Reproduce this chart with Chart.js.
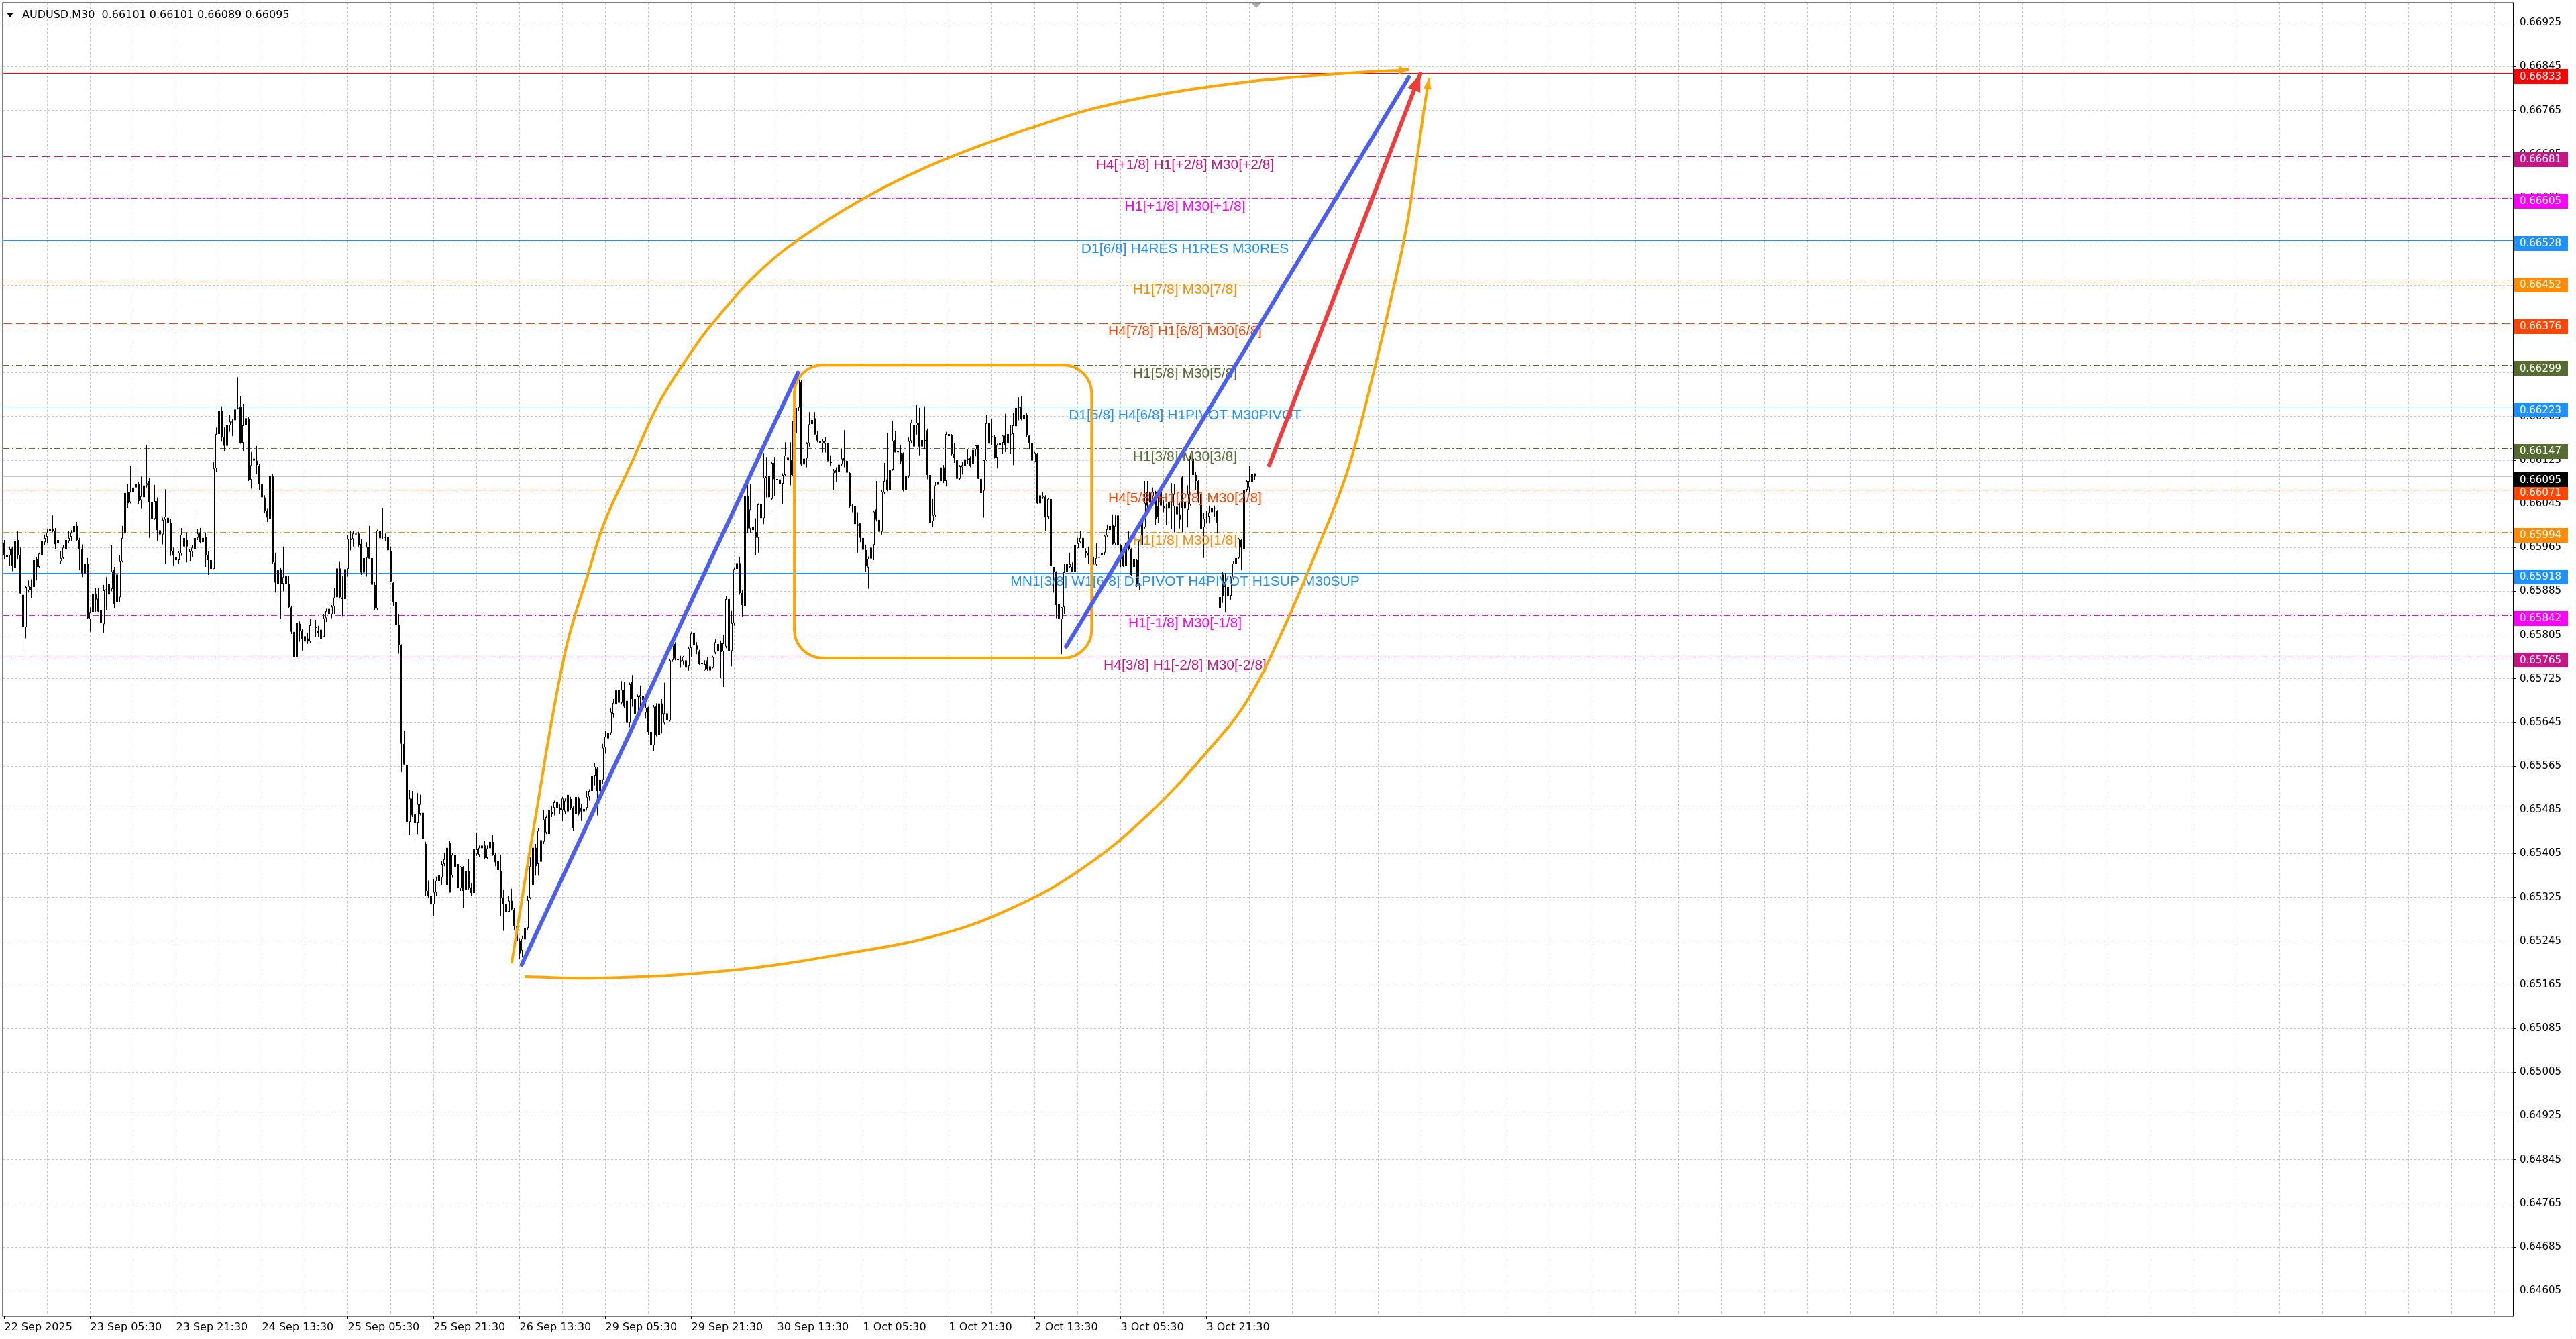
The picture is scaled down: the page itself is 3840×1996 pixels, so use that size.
<!DOCTYPE html>
<html><head><meta charset="utf-8">
<script src="https://cdn.jsdelivr.net/npm/chart.js@4.4.1/dist/chart.umd.min.js"></script>
<style>html,body{margin:0;padding:0;background:#fff;overflow:hidden}canvas{display:block}</style>
</head><body>
<canvas id="c" width="3840" height="1996"></canvas>
<script>
// ---------- header ----------
const headerText = 'AUDUSD,M30  0.66101 0.66101 0.66089 0.66095';

// ---------- candles (prices in points, 1 point = 0.00001) ----------
const opens = [
65973,65952,65950,65964,65928,65979,65952,65879,65819,65887,
65893,65893,65944,65930,65952,65975,65985,65995,66000,65995,
65973,65940,65946,65963,65977,65985,65993,66005,65979,65963,
65918,65936,65834,65846,65881,65872,65850,65825,65887,65879,
65889,65924,65916,65874,65940,65991,66067,66048,66067,66075,
66081,66052,66057,66079,66087,66048,66018,66050,65997,65989,
66016,66010,66010,65958,65947,65942,65954,65967,65979,65940,
65958,65963,65983,65993,65975,65985,65952,65942,65926,66110,
66173,66216,66167,66151,66189,66194,66198,66220,66222,66157,
66189,66201,66089,66128,66124,66114,66081,66057,66032,66018,
66097,65938,65899,65924,65899,65913,65899,65856,65811,65764,
65826,65813,65793,65799,65793,65819,65818,65812,65815,65802,
65836,65853,65843,65857,65874,65927,65874,65871,65926,65979,
65981,65989,65991,65972,65919,65946,65966,65946,65897,65853,
65996,65984,65983,65984,65959,65901,65866,65824,65787,65606,
65568,65463,65506,65478,65461,65478,65480,65423,65337,65328,
65312,65334,65355,65361,65386,65348,65425,65365,65403,65386,
65342,65381,65339,65374,65342,65333,65404,65403,65415,65420,
65397,65415,65427,65403,65392,65374,65324,65313,65299,65319,
65303,65273,65246,65228,65248,65269,65324,65348,65416,65386,
65390,65427,65444,65441,65482,65489,65489,65489,65485,65482,
65482,65505,65489,65478,65506,65489,65482,65489,65509,65520,
65547,65561,65520,65540,65599,65616,65626,65661,65678,65705,
65681,65705,65685,65644,65719,65688,65663,65691,65685,65663,
65673,65628,65603,65675,65622,65680,65644,65662,65648,65759,
65789,65762,65759,65757,65759,65748,65781,65810,65786,65775,
65753,65741,65759,65740,65745,65773,65775,65790,65775,65784,
65871,65776,65827,65926,65937,65882,65858,66060,66000,66003,
65994,65983,66044,66019,66093,66096,66054,66120,66089,66090,
66082,66098,66131,66126,66096,66175,66221,66268,66117,66128,
66156,66191,66202,66172,66161,66156,66155,66156,66120,66101,
66107,66104,66117,66129,66124,66102,66042,66041,66005,66011,
65983,65961,65929,65945,65970,66035,66016,65994,66066,66090,
66071,66108,66162,66142,66139,66137,66071,66096,66160,66150,
66189,66194,66150,66162,66180,66098,66013,66024,66080,66087,
66112,66087,66173,66171,66136,66125,66091,66112,66114,66128,
66130,66118,66144,66152,66091,66069,66125,66193,66169,66168,
66130,66153,66157,66170,66157,66172,66173,66187,66221,66223,
66208,66208,66170,66157,66122,66136,66061,66057,66058,66022,
66054,65930,65920,65862,65834,65856,65920,65930,65930,65920,
65964,65975,65983,65958,65956,65936,65934,65934,65946,65952,
65956,65987,65997,66007,65973,66024,65969,65960,65932,65973,
65962,65930,65942,65899,65969,66002,66067,66047,66059,66067,
66042,66042,66042,66038,66036,66047,66040,66040,66026,66094,
66036,66034,66044,66128,66098,66087,66063,66002,66020,66022,
66030,66036,66032,65854,65916,65903,65877,65877,65909,65936,
65946,65979,65963,66071,66075,66085,66101];
const highs = [
65979,65965,65967,65967,65995,65995,65965,65881,65895,65905,
65907,65956,65948,65956,65983,65989,65999,66010,66024,66001,
66001,65958,65969,65993,65995,65997,66006,66012,65983,65971,
65948,65946,65856,65883,65891,65891,65854,65897,65911,65901,
65969,65930,65920,65952,66005,66079,66081,66114,66081,66106,
66085,66095,66085,66153,66092,66081,66080,66057,66001,66020,
66072,66069,66018,65965,65952,65958,66001,65999,65993,65962,
65969,66026,65999,66001,66000,65993,65958,65944,66122,66185,
66226,66224,66185,66192,66208,66200,66220,66277,66243,66228,
66224,66204,66140,66157,66151,66118,66083,66061,66036,66120,
66100,65956,65946,65928,65967,65922,65913,65858,65813,65846,
65830,65817,65807,65809,65834,65832,65833,65822,65822,65843,
65853,65857,65860,65891,65936,65939,65913,65929,65988,65996,
65996,66001,65994,65981,65967,65975,66005,65950,65902,65998,
66005,66037,65991,66001,65967,65903,65874,65844,65788,65630,
65569,65521,65520,65492,65516,65513,65485,65427,65356,65337,
65358,65363,65374,65392,65406,65420,65429,65406,65410,65386,
65382,65382,65379,65396,65351,65416,65444,65420,65432,65429,
65420,65434,65439,65406,65399,65403,65339,65351,65327,65341,
65306,65275,65250,65255,65279,65328,65399,65427,65423,65451,
65434,65485,65475,65489,65492,65502,65506,65496,65509,65506,
65514,65509,65492,65513,65509,65496,65492,65520,65523,65564,
65571,65564,65558,65606,65630,65644,65671,65688,65730,65723,
65721,65719,65721,65718,65732,65713,65696,65713,65696,65683,
65674,65636,65677,65680,65721,65688,65718,65669,65762,65795,
65792,65765,65767,65767,65765,65784,65811,65811,65792,65778,
65762,65759,65765,65762,65767,65797,65803,65795,65806,65877,
65874,65849,65929,65956,65948,65888,66082,66085,66082,66049,
66019,66046,66068,66137,66131,66117,66123,66131,66096,66093,
66101,66158,66139,66158,66197,66251,66281,66271,66147,66158,
66213,66205,66213,66178,66178,66164,66167,66158,66134,66109,
66112,66145,66145,66180,66128,66104,66044,66046,66030,66011,
65986,65970,65949,65967,66033,66087,66019,66071,66120,66175,
66123,66197,66179,66169,66153,66139,66123,66167,66199,66287,
66227,66221,66227,66224,66183,66101,66054,66085,66087,66120,
66116,66177,66204,66173,66157,66126,66116,66122,66129,66146,
66132,66146,66153,66153,66095,66126,66208,66206,66200,66171,
66155,66163,66171,66210,66175,66189,66212,66238,66240,66242,
66218,66212,66171,66157,66140,66138,66089,66067,66061,66056,
66067,65930,65922,65864,65856,65936,65938,65956,65938,65973,
65983,65995,65995,65964,65966,65938,65948,65973,65950,65958,
65989,66007,66026,66026,66024,66026,65971,65962,65985,65995,
65964,65948,65944,65981,66012,66087,66087,66087,66075,66069,
66059,66083,66051,66046,66059,66083,66081,66059,66047,66096,
66083,66079,66136,66132,66104,66089,66067,66028,66032,66042,
66049,66042,66034,65879,65920,65918,65903,65914,65940,65979,
65983,65981,66073,66089,66114,66108,66101];
const lows = [
65944,65924,65932,65922,65922,65944,65881,65776,65799,65883,
65873,65883,65905,65928,65950,65969,65973,65989,65993,65963,
65969,65936,65944,65963,65973,65977,65989,65977,65924,65911,
65915,65834,65811,65836,65848,65846,65825,65809,65850,65830,
65885,65854,65862,65866,65938,65989,66038,66046,66032,66055,
66044,66036,66036,66075,65983,65997,66016,65977,65965,65971,
65936,65999,65950,65932,65936,65936,65950,65958,65938,65940,
65948,65961,65979,65973,65965,65930,65915,65885,65926,66104,
66142,66159,66142,66138,66177,66169,66181,66218,66155,66142,
66187,66087,66073,66120,66100,66071,66044,66028,66012,66016,
65936,65883,65864,65834,65885,65860,65854,65807,65748,65760,
65793,65776,65768,65789,65791,65813,65802,65802,65795,65802,
65829,65840,65836,65843,65874,65872,65840,65871,65912,65960,
65967,65967,65967,65915,65902,65912,65945,65895,65851,65850,
65941,65981,65977,65959,65903,65858,65822,65771,65554,65568,
65441,65439,65472,65430,65441,65475,65427,65328,65324,65258,
65291,65328,65344,65348,65382,65342,65334,65361,65368,65342,
65337,65306,65310,65339,65328,65328,65401,65399,65411,65395,
65396,65396,65401,65382,65358,65291,65264,65296,65298,65301,
65265,65241,65212,65215,65245,65265,65322,65327,65365,65365,
65382,65423,65441,65416,65472,65475,65472,65478,65465,65478,
65472,65485,65447,65472,65475,65465,65478,65484,65502,65499,
65530,65475,65513,65533,65588,65613,65623,65654,65674,65678,
65678,65671,65642,65636,65674,65647,65655,65669,65677,65652,
65622,65595,65593,65620,65600,65625,65642,65625,65647,65756,
65759,65743,65745,65751,65743,65740,65765,65784,65770,65751,
65748,65740,65740,65739,65744,65770,65765,65726,65710,65781,
65776,65748,65822,65838,65879,65838,65855,65992,65992,65948,
65951,65956,65756,66008,66057,66033,66052,66060,66063,66041,
66044,66096,66098,66079,66090,66172,66216,66115,66093,66112,
66150,66183,66172,66158,66134,66139,66139,66106,66115,66071,
66085,66101,66115,66112,66090,66038,66030,65989,65956,65975,
65953,65920,65890,65912,65942,66013,65986,65989,66063,66068,
66044,66106,66139,66134,66119,66068,66054,66093,66156,66057,
66172,66134,66145,66145,66090,65989,66003,66022,66079,66077,
66083,66077,66132,66134,66120,66089,66089,66099,66091,66118,
66112,66116,66132,66091,66061,66020,66124,66148,66153,66128,
66110,66140,66136,66140,66153,66136,66116,66187,66198,66198,
66155,66167,66146,66108,66122,66044,66030,66054,65995,66018,
65930,65883,65836,65817,65770,65844,65917,65928,65920,65917,
65964,65973,65962,65946,65936,65932,65934,65932,65940,65950,
65952,65985,65993,65969,65969,65966,65930,65930,65930,65960,
65913,65895,65893,65887,65954,66000,66038,66006,66050,66006,
66010,66038,66030,66006,66010,65999,65993,66014,66000,65993,
65997,66002,66042,66087,66071,66047,65969,65946,66010,66010,
66024,66022,65991,65838,65864,65846,65871,65869,65907,65934,
65944,65924,65961,66067,66063,66075,66089];
const closes = [
65952,65948,65962,65932,65977,65952,65881,65819,65893,65895,
65887,65942,65930,65954,65977,65983,65993,65999,65995,65971,
65979,65946,65965,65979,65983,65992,66005,65979,65963,65918,
65936,65836,65846,65881,65870,65848,65828,65887,65889,65899,
65922,65862,65866,65940,65983,66065,66046,66067,66075,66081,
66050,66059,66079,66083,66048,66018,66050,65997,65989,66016,
66022,66020,65958,65952,65942,65956,65989,65983,65967,65958,
65965,65983,65991,65975,65983,65952,65942,65926,66110,66173,
66216,66167,66151,66189,66196,66196,66218,66221,66157,66189,
66202,66089,66116,66124,66116,66081,66057,66032,66020,66096,
65938,65901,65924,65899,65911,65899,65856,65811,65764,65828,
65813,65797,65803,65793,65823,65821,65821,65809,65798,65836,
65849,65843,65857,65874,65927,65874,65871,65926,65981,65982,
65991,65991,65970,65919,65946,65966,65945,65897,65853,65996,
65982,65984,65985,65960,65903,65866,65824,65787,65606,65568,
65463,65506,65475,65461,65496,65496,65432,65337,65328,65312,
65335,65356,65366,65386,65395,65416,65334,65403,65381,65342,
65381,65337,65374,65342,65333,65413,65413,65416,65420,65397,
65415,65427,65403,65389,65375,65324,65312,65299,65319,65303,
65273,65246,65222,65250,65269,65320,65382,65416,65382,65447,
65430,65468,65472,65485,65478,65499,65499,65485,65506,65502,
65513,65489,65451,65509,65478,65482,65487,65509,65520,65547,
65564,65520,65540,65599,65619,65626,65664,65681,65705,65681,
65705,65674,65644,65715,65688,65661,65693,65695,65693,65672,
65628,65603,65674,65622,65680,65661,65662,65650,65759,65786,
65762,65759,65756,65765,65745,65781,65808,65786,65778,65752,
65752,65752,65743,65748,65765,65792,65789,65774,65790,65871,
65776,65827,65926,65937,65882,65860,66060,66000,66035,65997,
65983,66044,66019,66093,66096,66057,66120,66090,66091,66082,
66098,66134,66126,66098,66197,66221,66273,66117,66128,66156,
66191,66199,66172,66161,66156,66160,66160,66123,66123,66106,
66102,66117,66128,66124,66102,66041,66041,66008,66008,65983,
65961,65931,65945,65965,66031,66016,65994,66068,66087,66071,
66108,66161,66139,66139,66123,66071,66096,66160,66194,66189,
66194,66150,66162,66160,66098,66011,66025,66079,66085,66112,
66087,66173,66169,66136,66130,66091,66114,66116,66127,66126,
66114,66144,66152,66091,66065,66125,66193,66155,66167,66130,
66153,66157,66170,66153,66173,66173,66189,66221,66223,66200,
66200,66171,66157,66124,66138,66046,66046,66060,66020,66054,
65932,65920,65860,65834,65856,65920,65936,65935,65920,65969,
65973,65983,65964,65955,65950,65934,65936,65946,65948,65956,
65987,65999,66005,65971,66005,65969,65944,65932,65973,65962,
65915,65944,65899,65977,66010,66047,66042,66067,66067,66018,
66022,66067,66036,66036,66049,66063,66063,66026,66016,66038,
66049,66063,66128,66098,66087,66063,65999,66018,66022,66030,
66038,66038,66010,65875,65877,65893,65893,65909,65936,65946,
65981,65965,66071,66087,66087,66100,66095];

// ---------- axes ----------
const xLabelBars = [0,32,64,96,128,160,192,224,256,288,320,352,384,416,448];
const xLabelTexts = ['22 Sep 2025','23 Sep 05:30','23 Sep 21:30','24 Sep 13:30','25 Sep 05:30','25 Sep 21:30','26 Sep 13:30','29 Sep 05:30','29 Sep 21:30','30 Sep 13:30','1 Oct 05:30','1 Oct 21:30','2 Oct 13:30','3 Oct 05:30','3 Oct 21:30'];
const xGridStep = 16;
const yTickFirst = 0.64605, yTickStep = 0.0008, yTickCount = 30;
const yMin = 0.645599, yMax = 0.66961;
const xMin = -0.375, xMax = 934.875;

// ---------- levels ----------
const levelPrices = [0.66681,0.66605,0.66528,0.66452,0.66376,0.66299,0.66223,0.66147,0.66071,0.65994,0.65918,0.65842,0.65765];
const levelLabels = ['H4[+1/8] H1[+2/8] M30[+2/8]','H1[+1/8] M30[+1/8]','D1[6/8] H4RES H1RES M30RES','H1[7/8] M30[7/8]','H4[7/8] H1[6/8] M30[6/8]','H1[5/8] M30[5/8]','D1[5/8] H4[6/8] H1PIVOT M30PIVOT','H1[3/8] M30[3/8]','H4[5/8] H1[2/8] M30[2/8]','H1[1/8] M30[1/8]','MN1[3/8] W1[6/8] D1PIVOT H4PIVOT H1SUP M30SUP','H1[-1/8] M30[-1/8]','H4[3/8] H1[-2/8] M30[-2/8]'];
const levelColors = ['#C71585','#FF00FF','#1E90FF','#FF8C00','#FF4500','#556B2F','#1E90FF','#556B2F','#FF4500','#FF8C00','#1E90FF','#FF00FF','#C71585'];
const levelStyles = ['dash','dashdot','solid','dashdot','dash','dashdot','solid','dashdot','dash','dashdot','thick','dashdot','dash'];
const levelLabelBar = 440;
const currentPrice = 0.66095;
const targetPrice = 0.66833;

// ---------- drawings (bar index, price) ----------
const blueTrend1 = [{x:192.8,y:0.65202},{x:295.75,y:0.66285}];
const blueTrend2 = [{x:395.7,y:0.65784},{x:523.4,y:0.66826}];
const redTrend   = [{x:471.4,y:0.66116},{x:527.7,y:0.66832}];
const upperCurveX = [189.05,197.0,208.7,217.85,223.7,233.65,243.6,253.6,263.5,283.5,303.4,323.3,343.25,363.2,383.1,403.05,423.0,442.9,462.8,482.8,502.7,523.6];
const upperCurveY = [0.652043,0.654441,0.657676,0.659224,0.660121,0.661193,0.662264,0.663054,0.66373,0.664801,0.665534,0.666125,0.666604,0.666999,0.667337,0.667647,0.667872,0.668042,0.668172,0.668267,0.66834,0.668396];
const lowerCurveX = [193.9,221.4,269.35,317.2,348.9,374.4,399.95,425.45,450.98,463.7,476.5,489.2,500.7,510.7,516.65,522.6,526.6,529.6,531.0];
const lowerCurveY = [0.651798,0.651773,0.651908,0.652252,0.652573,0.65303,0.65372,0.654728,0.656071,0.656896,0.658147,0.659613,0.661079,0.662941,0.664181,0.665534,0.66683,0.667844,0.668239];
const rangeBox = {x0:294.4, x1:405.2, lo:0.65763, hi:0.66299};

// ---------- build ----------
const P = v => v / 100000;
const wickData = lows.map((l, i) => ({x: i, y: [P(l), P(highs[i])]}));
const bodyData = opens.map((o, i) => ({x: i, y: [P(o), P(closes[i])]}));
const bodyFill = opens.map((o, i) => closes[i] >= o ? '#ffffff' : '#000000');
const upperCurve = upperCurveX.map((x, i) => ({x, y: upperCurveY[i]}));
const lowerCurve = lowerCurveX.map((x, i) => ({x, y: lowerCurveY[i]}));
const labelMap = new Map(xLabelBars.map((b, i) => [b, xLabelTexts[i]]));
const gridBars = []; for (let b = 0; b <= xMax; b += xGridStep) gridBars.push(b);
const yTicks = []; for (let k = 0; k < yTickCount; k++) yTicks.push(+(yTickFirst + k * yTickStep).toFixed(5));

function dashFor(s) {
  if (s === 'dash') return [13, 6];
  if (s === 'dashdot') return [9, 4, 2, 4];
  return [];
}
function hLine(ctx, a, y, color, w, dash) {
  const yy = w % 2 ? Math.round(y) + 0.5 : Math.round(y);
  ctx.save(); ctx.strokeStyle = color; ctx.lineWidth = w; ctx.setLineDash(dash);
  ctx.beginPath(); ctx.moveTo(a.left, yy); ctx.lineTo(a.right, yy); ctx.stroke(); ctx.restore();
}
function arrowHead(ctx, p1, p2, len, half, color) {
  const dx = p2.x - p1.x, dy = p2.y - p1.y, d = Math.hypot(dx, dy) || 1;
  const ux = dx / d, uy = dy / d;
  const bx = p2.x - ux * len, by = p2.y - uy * len;
  ctx.save(); ctx.fillStyle = color; ctx.beginPath();
  ctx.moveTo(p2.x, p2.y); ctx.lineTo(bx - uy * half, by + ux * half); ctx.lineTo(bx + uy * half, by - ux * half);
  ctx.closePath(); ctx.fill(); ctx.restore();
}
const pt = (ch, d) => ({x: ch.scales.x.getPixelForValue(d.x), y: ch.scales.y.getPixelForValue(d.y)});

const mt4 = {
  id: 'mt4',
  beforeDatasetsDraw(chart) {
    const ctx = chart.ctx, a = chart.chartArea, ys = chart.scales.y;
    ctx.save(); ctx.beginPath(); ctx.rect(a.left, a.top, a.right - a.left, a.bottom - a.top); ctx.clip();
    hLine(ctx, a, ys.getPixelForValue(currentPrice), '#c0c0c0', 1, []);
    hLine(ctx, a, ys.getPixelForValue(targetPrice), '#ff0000', 1, []);
    levelPrices.forEach((p, k) => {
      const s = levelStyles[k];
      hLine(ctx, a, ys.getPixelForValue(p), levelColors[k], s === 'thick' ? 2 : 1, dashFor(s));
    });
    ctx.restore();
  },
  afterDatasetDraw(chart, args) {
    if (args.index !== 1) return;
    const ctx = chart.ctx, xs = chart.scales.x, ys = chart.scales.y, a = chart.chartArea;
    ctx.save(); ctx.beginPath(); ctx.rect(a.left, a.top, a.right - a.left, a.bottom - a.top); ctx.clip();
    ctx.font = '21px "Liberation Sans", Arial, sans-serif';
    ctx.textAlign = 'center'; ctx.textBaseline = 'middle';
    const tx = xs.getPixelForValue(levelLabelBar);
    levelPrices.forEach((p, k) => {
      ctx.fillStyle = levelColors[k];
      ctx.fillText(levelLabels[k], tx, ys.getPixelForValue(p) + 13);
    });
    const x0 = xs.getPixelForValue(rangeBox.x0), x1 = xs.getPixelForValue(rangeBox.x1);
    const y0 = ys.getPixelForValue(rangeBox.hi), y1 = ys.getPixelForValue(rangeBox.lo);
    ctx.strokeStyle = '#FFA500'; ctx.lineWidth = 4;
    ctx.beginPath(); ctx.roundRect(x0, y0, x1 - x0, y1 - y0, 42); ctx.stroke();
    ctx.restore();
  },
  afterDatasetsDraw(chart) {
    const ctx = chart.ctx;
    arrowHead(ctx, pt(chart, redTrend[0]), pt(chart, redTrend[1]), 26, 10, '#F23B3B');
    const u = chart.getDatasetMeta(5).data, l = chart.getDatasetMeta(6).data;
    const ua = u[u.length - 1], ub = u[u.length - 2];
    arrowHead(ctx, {x: ub.x, y: ub.y}, {x: ua.x, y: ua.y}, 16, 6, '#FFA500');
    const la = l[l.length - 1], lb = l[l.length - 2];
    arrowHead(ctx, {x: lb.x, y: lb.y}, {x: la.x, y: la.y}, 16, 6, '#FFA500');
  },
  afterDraw(chart) {
    const ctx = chart.ctx, a = chart.chartArea, ys = chart.scales.y, xs = chart.scales.x;
    ctx.save();
    ctx.strokeStyle = '#000'; ctx.lineWidth = 1.5;
    ctx.strokeRect(a.left - 0.75, a.top - 0.75, a.right - a.left + 1.5, a.bottom - a.top + 1.5);
    ctx.strokeStyle = '#c8c8c8'; ctx.lineWidth = 1;
    ctx.beginPath(); ctx.moveTo(3838.5, 0); ctx.lineTo(3838.5, 1995); ctx.moveTo(0, 1994.5); ctx.lineTo(3839, 1994.5); ctx.stroke();
    const mx = xs.getPixelForValue(opens.length - 0.4);
    ctx.fillStyle = '#a8a8a8'; ctx.beginPath();
    ctx.moveTo(mx - 7, a.top); ctx.lineTo(mx + 7, a.top); ctx.lineTo(mx, a.top + 7); ctx.closePath(); ctx.fill();
    const boxes = [[targetPrice, '#FF0000']].concat(levelPrices.map((p, k) => [p, levelColors[k]]));
    boxes.push([currentPrice, '#000000']);
    ctx.font = '15px "DejaVu Sans", sans-serif'; ctx.textBaseline = 'middle'; ctx.textAlign = 'left';
    boxes.forEach(([p, c]) => {
      const yc = ys.getPixelForValue(p) + 5;
      ctx.fillStyle = c; ctx.fillRect(a.right + 2, Math.round(yc - 11), 80, 22);
      ctx.fillStyle = '#ffffff'; ctx.fillText(p.toFixed(5), a.right + 10, yc + 0.5);
    });
    ctx.fillStyle = '#000';
    ctx.beginPath(); ctx.moveTo(10, 19); ctx.lineTo(20, 19); ctx.lineTo(15, 26); ctx.closePath(); ctx.fill();
    ctx.font = '16px "DejaVu Sans", sans-serif'; ctx.textBaseline = 'middle';
    ctx.fillText(headerText, 33, 23);
    ctx.restore();
  }
};

Chart.defaults.font.family = '"DejaVu Sans", sans-serif';
new Chart(document.getElementById('c'), {
  type: 'bar',
  data: {
    datasets: [
      {type: 'bar', data: wickData, backgroundColor: '#000', borderWidth: 0, barThickness: 1, grouped: false, inflateAmount: 0, order: 11},
      {type: 'bar', data: bodyData, backgroundColor: bodyFill, borderColor: '#000', borderWidth: 1, borderSkipped: false, barThickness: 3, minBarLength: 1, grouped: false, inflateAmount: 0, order: 10},
      {type: 'line', data: blueTrend1, borderColor: '#4A5EF2', borderWidth: 6, pointRadius: 0, borderCapStyle: 'round', order: 3},
      {type: 'line', data: blueTrend2, borderColor: '#4A5EF2', borderWidth: 6, pointRadius: 0, borderCapStyle: 'round', order: 3},
      {type: 'line', data: redTrend, borderColor: '#F23B3B', borderWidth: 6, pointRadius: 0, borderCapStyle: 'round', order: 2},
      {type: 'line', data: upperCurve, borderColor: '#FFA500', borderWidth: 4, pointRadius: 0, tension: 0.4, order: 4},
      {type: 'line', data: lowerCurve, borderColor: '#FFA500', borderWidth: 4, pointRadius: 0, tension: 0.4, order: 4}
    ]
  },
  options: {
    responsive: false, animation: false, devicePixelRatio: 1, events: [],
    layout: {padding: {left: 5, top: 5, right: 0, bottom: 0}},
    plugins: {legend: {display: false}, tooltip: {enabled: false}},
    scales: {
      x: {
        type: 'linear', min: xMin, max: xMax, offset: false,
        afterBuildTicks: s => { s.ticks = gridBars.map(v => ({value: v})); },
        afterFit: s => { s.height = 35; s.paddingLeft = 0; s.paddingRight = 0; },
        ticks: {autoSkip: false, maxRotation: 0, minRotation: 0, align: 'start', padding: 3, color: '#000',
          font: {size: 16, family: '"DejaVu Sans", sans-serif'}, callback: v => labelMap.get(v) || ''},
        grid: {offset: false, lineWidth: 1, tickLength: 5,
          color: c => (c.tick && c.tick.value === 0) ? 'rgba(0,0,0,0)' : '#c4c4c4',
          tickColor: c => (c.tick && labelMap.has(c.tick.value)) ? '#000' : 'rgba(0,0,0,0)'},
        border: {display: false, dash: [3, 3]}
      },
      y: {
        type: 'linear', position: 'right', min: yMin, max: yMax,
        afterBuildTicks: s => { s.ticks = yTicks.map(v => ({value: v})); },
        afterFit: s => { s.width = 94; s.paddingTop = 0; s.paddingBottom = 0; },
        ticks: {autoSkip: false, padding: 6, color: '#000', font: {size: 15, family: '"DejaVu Sans", sans-serif'},
          callback: v => Number(v).toFixed(5)},
        grid: {lineWidth: 1, tickLength: 4, color: '#c4c4c4', tickColor: '#000'},
        border: {display: false, dash: [3, 3]}
      }
    }
  },
  plugins: [mt4]
});
</script>
</body></html>
